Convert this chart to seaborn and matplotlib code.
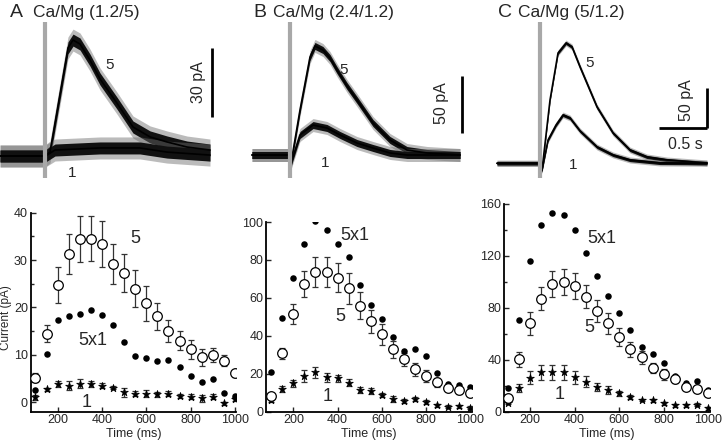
import numpy as np
import seaborn as sns
import matplotlib.pyplot as plt
from matplotlib.ticker import MultipleLocator

sns.set_theme(style="ticks")
plt.rcParams['font.family'] = ['Liberation Sans', 'DejaVu Sans']

W, H = 723, 444
PPS = 95.3  # pixels per second in the traces

# ---------------- bottom panels: mean currents ----------------
time_ms = [100, 150, 200, 250, 300, 350, 400, 450, 500, 550,
           600, 650, 700, 750, 800, 850, 900, 950, 1000]

a_five = [5.2, 14.4, 24.7, 31.3, 34.4, 34.5, 33.4, 29.2, 27.3, 23.9,
          20.9, 18.1, 15.1, 13.0, 11.2, 9.5, 10.0, 8.8, 6.1]
a_five_err = [1.0, 1.8, 3.8, 4.2, 4.8, 4.8, 4.8, 4.2, 4.0, 3.9,
              3.7, 2.8, 2.3, 2.0, 2.0, 1.8, 1.5, 1.2, 0.8]
a_five_x1 = [2.6, 10.1, 17.4, 18.1, 18.6, 19.5, 18.5, 16.3, 12.6, 9.8,
             9.3, 8.8, 8.9, 7.4, 5.6, 4.2, 4.8, 1.9, 1.4]
a_one = [1.0, 2.7, 3.9, 3.5, 3.9, 3.8, 3.5, 3.1, 2.1, 1.8,
         1.8, 1.7, 1.8, 1.3, 1.2, 0.8, 1.2, -0.2, 0.6]
a_one_err = [0.6, 0.4, 0.6, 1.0, 1.0, 0.6, 0.5, 0.4, 0.9, 0.5,
             0.7, 0.5, 0.5, 0.5, 0.6, 0.7, 0.5, 0.3, 0.4]

b_five = [8.4, 30.8, 51.5, 67.3, 73.8, 73.8, 70.7, 65.0, 55.9, 47.6,
          40.8, 32.9, 27.6, 22.3, 18.8, 15.5, 12.7, 11.4, 9.7]
b_five_err = [1.5, 3.0, 5.5, 7.0, 8.0, 8.0, 7.5, 8.0, 7.0, 6.0,
              5.5, 4.5, 3.5, 3.5, 3.0, 2.5, 2.0, 2.0, 1.5]
b_five_x1 = [20.9, 49.6, 70.5, 88.4, 100.6, 95.8, 88.4, 81.4, 67.0, 56.4,
             48.7, 39.2, 32.0, 32.9, 29.5, 20.2, 14.6, 14.2, 12.8]
b_one = [6.0, 12.1, 14.9, 18.8, 20.7, 18.1, 17.6, 15.3, 11.6, 10.9,
         9.0, 6.7, 5.8, 6.7, 5.1, 3.3, 2.6, 2.8, 2.1]
b_one_err = [1.0, 1.5, 2.0, 3.0, 3.0, 2.5, 2.0, 2.0, 1.5, 1.5,
             1.0, 1.5, 1.0, 1.0, 1.0, 0.8, 0.8, 0.8, 0.8]

c_five = [10.8, 40.3, 67.9, 86.9, 97.9, 99.5, 96.9, 88.5, 77.7, 67.9,
          57.7, 47.9, 41.8, 33.8, 28.7, 24.9, 18.7, 17.4, 14.1]
c_five_err = [1.5, 6.0, 9.0, 9.0, 10.0, 10.0, 10.0, 9.0, 8.5, 8.0,
              7.0, 6.0, 5.0, 4.0, 4.0, 3.0, 2.0, 2.0, 2.0]
c_five_x1 = [18.5, 70.3, 115.7, 143.6, 152.6, 151.3, 139.8, 122.3, 104.5, 89.0,
             76.2, 62.6, 49.5, 44.4, 37.4, 27.4, 22.3, 23.3, 16.9]
c_one = [6.9, 18.2, 26.2, 30.3, 30.3, 30.3, 26.4, 23.1, 19.2, 16.7,
         14.1, 11.5, 8.9, 8.7, 6.4, 4.9, 4.9, 5.4, 2.6]
c_one_err = [1.0, 3.0, 5.0, 6.0, 6.0, 6.0, 5.0, 4.0, 3.0, 3.0,
             2.0, 1.5, 1.0, 1.0, 1.0, 1.0, 1.0, 1.0, 1.0]

# ---------------- top panels: example traces (s, pA) ----------------
a5_t = [-0.477, -0.005, 0.047, 0.236, 0.289, 0.362, 0.467, 0.572, 0.750, 0.918, 1.097, 1.275, 1.485, 1.726]
a5_i = [0.0, 0.0, 1.7, 47.0, 50.4, 48.7, 41.7, 33.5, 23.0, 12.6, 8.3, 6.1, 3.9, 2.6]
a1_t = [-0.477, 0.0, 0.10, 0.572, 0.99, 1.275, 1.726]
a1_i = [0.0, 0.0, 2.6, 3.5, 3.5, 1.7, 0.4]

b5_t = [-0.396, -0.007, 0.014, 0.108, 0.213, 0.265, 0.349, 0.423, 0.496, 0.601, 0.706, 0.874, 1.052, 1.231, 1.440, 1.787]
b5_i = [0.0, 0.0, -7.1, 39.8, 86.7, 96.5, 92.9, 85.8, 75.2, 61.1, 48.7, 28.3, 13.3, 4.4, 1.8, 0.0]
b1_t = [-0.396, -0.007, 0.014, 0.108, 0.245, 0.391, 0.528, 0.706, 0.874, 1.052, 1.231, 1.787]
b1_i = [0.0, 0.0, -7.1, 17.7, 26.5, 23.9, 17.7, 10.6, 6.2, 1.8, 0.0, 0.0]

c5_t = [-0.453, -0.013, 0.019, 0.103, 0.187, 0.271, 0.334, 0.418, 0.596, 0.764, 0.942, 1.120, 1.330, 1.750]
c5_i = [0.0, 0.0, -8.4, 79.1, 137.9, 150.4, 145.4, 120.4, 70.4, 37.9, 16.6, 7.9, 4.1, 0.4]
c1_t = [-0.453, -0.013, 0.019, 0.082, 0.166, 0.239, 0.313, 0.418, 0.596, 0.764, 0.942, 1.257, 1.750]
c1_i = [0.0, 0.0, -8.4, 29.1, 47.9, 60.4, 56.6, 40.4, 20.4, 10.4, 4.1, 0.4, 0.0]


fig = plt.figure(figsize=(W / 100, H / 100), dpi=100)


def px_axes(x0, y0, x1, y1):
    return fig.add_axes([x0 / W, 1 - y1 / H, (x1 - x0) / W, (y1 - y0) / H])


# ---- traces ----  (core/halo = half height of the noise band, in pixels)
top_panels = [
    dict(box=(0, 15, 215, 185), stim_x=45.5, base=156, ppa=2.3, core=6, halo=11,
         traces=[(a5_t, a5_i), (a1_t, a1_i)], bar=(1.744, 17, 47), bar_lab='30 pA',
         lab_pos=(1.603, 32.3), five=(0.677, 39.6), one=(0.275, -7.5)),
    dict(box=(248, 15, 470, 185), stim_x=289.7, base=155, ppa=1.13, core=3.5, halo=6.5,
         traces=[(b5_t, b5_i), (b1_t, b1_i)], bar=(1.807, 19.5, 69.5), bar_lab='50 pA',
         lab_pos=(1.595, 45.7), five=(0.562, 75.2), one=(0.370, -7.3)),
    dict(box=(493, 15, 712, 185), stim_x=540.2, base=163.3, ppa=0.8, core=1.6, halo=3,
         traces=[(c5_t, c5_i), (c1_t, c1_i)], bar=(1.748, 43.75, 93.75), bar_lab='50 pA',
         lab_pos=(1.537, 79.1), five=(0.523, 125), one=(0.347, -2.1)),
]

for p in top_panels:
    x0, y0, x1, y1 = p['box']
    ax = px_axes(x0, y0, x1, y1)
    ax.set_xlim((x0 - p['stim_x']) / PPS, (x1 - p['stim_x']) / PPS)
    ax.set_ylim((p['base'] - y1) / p['ppa'], (p['base'] - y0) / p['ppa'])
    ax.axis('off')
    hc, hh = p['core'] / p['ppa'], p['halo'] / p['ppa']
    for t, i in p['traces']:
        i = np.asarray(i)
        ax.fill_between(t, i - hh, i + hh, color='#6a6a6a', alpha=0.45, lw=0)
        ax.fill_between(t, i - hc, i + hc, color='#111111', lw=0)
        sns.lineplot(x=t, y=i, ax=ax, sort=False, estimator=None, color='black', lw=1.2)
    # stimulus artifact
    ax.plot([0, 0], [(p['base'] - 178) / p['ppa'], (p['base'] - 22) / p['ppa']],
            color='#a8a8a8', lw=3, zorder=5, solid_capstyle='butt')
    bx, by0, by1 = p['bar']
    ax.plot([bx, bx], [by0, by1], color='black', lw=2, solid_capstyle='butt')
    ax.text(*p['lab_pos'], p['bar_lab'], rotation=90, ha='center', va='center', fontsize=11.5)
    ax.text(*p['five'], '5', ha='center', va='center', fontsize=11)
    ax.text(*p['one'], '1', ha='center', va='center', fontsize=11)

# time scale bar in C
ax.plot([1.247, 1.748], [43.75, 43.75], color='black', lw=2, solid_capstyle='butt')
ax.text(1.519, 24.1, '0.5 s', ha='center', va='center', fontsize=11.5)

# panel titles
for letter, lx, title, tx in [('A', 10, 'Ca/Mg (1.2/5)', 32.7),
                              ('B', 253, 'Ca/Mg (2.4/1.2)', 272.7),
                              ('C', 498, 'Ca/Mg (5/1.2)', 518.3)]:
    fig.text(lx / W, 1 - 17 / H, letter, fontsize=14, va='baseline', ha='left')
    fig.text(tx / W, 1 - 17 / H, title, fontsize=12.5, va='baseline', ha='left')

# ---- mean current plots ----
bottom_panels = [
    dict(box=(30.6, 212.6, 236.1, 411.7), xlim=(78, 1005), ylim=(-2, 40), major=10, minor=5,
         five=a_five, five_err=a_five_err, fx1=a_five_x1, one=a_one, one_err=a_one_err,
         labels=[('5', 549, 34.5), ('5x1', 360, 13.1), ('1', 331, 0)]),
    dict(box=(266, 222, 472.3, 411.7), xlim=(76, 1010), ylim=(0, 100), major=20, minor=20,
         five=b_five, five_err=b_five_err, fx1=b_five_x1, one=b_one, one_err=b_one_err,
         labels=[('5x1', 479, 93), ('5', 411, 50), ('1', 354, 7.9)]),
    dict(box=(504, 203.7, 710.2, 411.7), xlim=(83, 1008), ylim=(0, 160), major=40, minor=20,
         five=c_five, five_err=c_five_err, fx1=c_five_x1, one=c_one, one_err=c_one_err,
         labels=[('5x1', 521, 133), ('5', 465, 65), ('1', 333, 13)]),
]

for k, p in enumerate(bottom_panels):
    ax = px_axes(*p['box'])
    ax.errorbar(time_ms, p['five'], yerr=p['five_err'], fmt='none', ecolor='#333333',
                elinewidth=0.9, capsize=2.3, capthick=0.9, zorder=2)
    ax.errorbar(time_ms, p['one'], yerr=p['one_err'], fmt='none', ecolor='#333333',
                elinewidth=0.9, capsize=2.0, capthick=0.9, zorder=2)
    sns.scatterplot(x=time_ms, y=p['fx1'], ax=ax, marker='o', s=22, color='black',
                    edgecolor='black', linewidth=0, zorder=3)
    sns.scatterplot(x=time_ms, y=p['one'], ax=ax, marker='*', s=34, color='black',
                    edgecolor='black', linewidth=0.5, zorder=3)
    sns.scatterplot(x=time_ms, y=p['five'], ax=ax, marker='o', s=48, color='white',
                    edgecolor='black', linewidth=0.9, zorder=4)
    for txt, x, y in p['labels']:
        ax.text(x, y, txt, ha='center', va='center', fontsize=13)
    ax.set_xlim(*p['xlim'])
    ax.set_ylim(*p['ylim'])
    ax.xaxis.set_major_locator(MultipleLocator(200))
    ax.yaxis.set_major_locator(MultipleLocator(p['major']))
    ax.yaxis.set_minor_locator(MultipleLocator(p['minor']))
    if k == 0:
        ax.set_yticks([0, 10, 20, 30, 40])
    ax.tick_params(which='both', direction='in', labelsize=9, width=1, pad=2)
    ax.tick_params(which='major', length=3.5)
    ax.tick_params(which='minor', length=2.5)
    ax.set_xlabel('Time (ms)', fontsize=9, labelpad=1)
    ax.set_ylabel('')
    sns.despine(ax=ax)
    for s in ['left', 'bottom']:
        ax.spines[s].set_linewidth(1.3)
        ax.spines[s].set_color('black')

fig.text(6 / W, 1 - 318 / H, 'Current (pA)', rotation=90, ha='center', va='center', fontsize=8.5)

fig.savefig('out.png', dpi=100)
